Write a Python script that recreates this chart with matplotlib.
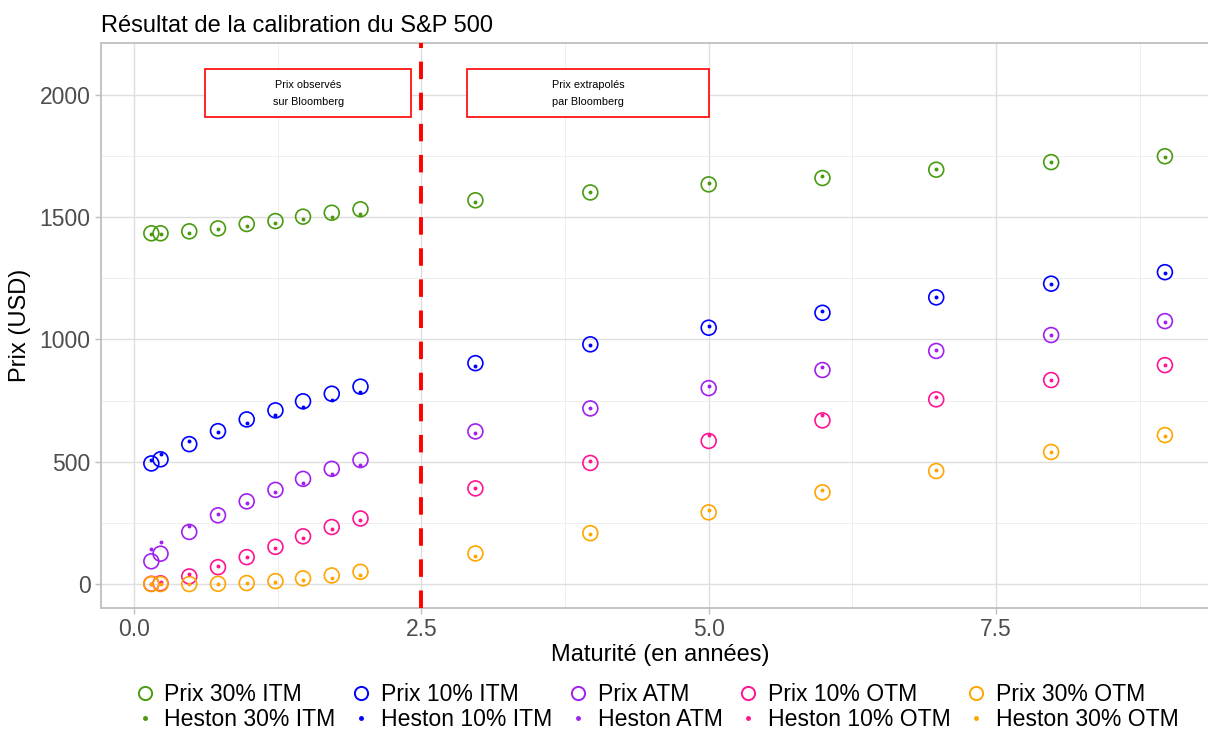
import matplotlib
matplotlib.use("Agg")
import matplotlib.pyplot as plt
from matplotlib.lines import Line2D
from matplotlib.patches import Rectangle

plt.rcParams["font.family"] = ["Liberation Sans", "DejaVu Sans"]

# Maturities (years): quoted on Bloomberg, then extrapolated
maturites = [0.15, 0.23, 0.48, 0.73, 0.98, 1.23, 1.47, 1.72, 1.97,
             2.97, 3.97, 5.0, 5.99, 6.98, 7.98, 8.97]

# Market prices
prix_30_itm = [1434, 1434, 1442, 1454, 1472, 1484, 1502, 1518, 1532,
               1569, 1601, 1634, 1660, 1694, 1725, 1749]
prix_10_itm = [493, 510, 572, 625, 673, 710, 747, 778, 807,
               903, 980, 1048, 1109, 1172, 1228, 1275]
prix_atm = [93, 124, 213, 281, 338, 385, 430, 471, 507,
            624, 718, 801, 875, 953, 1018, 1075]
prix_10_otm = [1, 3, 31, 69, 110, 152, 195, 233, 268,
               391, 495, 585, 669, 755, 834, 895]
prix_30_otm = [0, 0, 0, 1, 4, 12, 23, 35, 50,
               125, 208, 293, 375, 462, 540, 609]

# Heston model prices
heston_30_itm = [1430, 1430, 1436, 1450, 1464, 1475, 1492, 1499, 1513,
                 1561, 1601, 1641, 1669, 1697, 1725, 1746]
heston_10_itm = [507, 533, 583, 621, 658, 690, 723, 754, 784,
                 890, 977, 1055, 1116, 1175, 1228, 1272]
heston_atm = [142, 173, 237, 286, 332, 375, 414, 450, 488,
              616, 720, 811, 887, 955, 1018, 1071]
heston_10_otm = [2, 9, 40, 73, 110, 148, 187, 224, 260,
                 391, 503, 608, 690, 765, 834, 895]
heston_30_otm = [0, 0, 0, 0, 3, 7, 15, 24, 38,
                 116, 206, 301, 384, 465, 538, 605]

labels_prix = ["Prix 30% ITM", "Prix 10% ITM", "Prix ATM", "Prix 10% OTM", "Prix 30% OTM"]
labels_heston = ["Heston 30% ITM", "Heston 10% ITM", "Heston ATM", "Heston 10% OTM", "Heston 30% OTM"]
couleurs = ["#4A9A0F", "#0000FF", "#A020F0", "#FF1493", "#FFA500"]

series_prix = [prix_30_itm, prix_10_itm, prix_atm, prix_10_otm, prix_30_otm]
series_heston = [heston_30_itm, heston_10_itm, heston_atm, heston_10_otm, heston_30_otm]

fig = plt.figure(figsize=(12.08, 7.29), dpi=100)
ax = fig.add_axes([101 / 1208, (729 - 608) / 729, (1208 - 101) / 1208 + 0.01, (608 - 43) / 729])

grid_major = "#DEDEDE"
grid_minor = "#EEEEEE"
ax.set_xlim(-0.288, 9.45)
ax.set_ylim(-98, 2212)
ax.set_xticks([0, 2.5, 5, 7.5])
ax.set_xticklabels(["0.0", "2.5", "5.0", "7.5"])
ax.set_yticks([0, 500, 1000, 1500, 2000])
ax.set_xticks([1.25, 3.75, 6.25, 8.75], minor=True)
ax.set_yticks([250, 750, 1250, 1750], minor=True)
ax.grid(True, which="major", color=grid_major, linewidth=1.0)
ax.grid(True, which="minor", color=grid_minor, linewidth=0.7)
ax.set_axisbelow(True)
for side in ["top", "left", "bottom", "right"]:
    ax.spines[side].set_color("#BFBFBF")
    ax.spines[side].set_linewidth(1.3)
ax.tick_params(axis="both", which="major", colors="#BFBFBF", labelcolor="#4D4D4D",
               labelsize=16.5, length=4, width=1)
ax.tick_params(axis="both", which="minor", length=0)

handles = []
for lp, lh, c, sp, sh in zip(labels_prix, labels_heston, couleurs, series_prix, series_heston):
    ax.scatter(maturites, sp, s=115, facecolors="none", edgecolors=c, linewidths=1.2, zorder=3)
    ax.scatter(maturites, sh, s=8, color=c, linewidths=0, zorder=4)
    handles.append(Line2D([], [], linestyle="none", marker="o", markersize=9.5,
                          markerfacecolor="none", markeredgecolor=c, markeredgewidth=1.4, label=lp))
    handles.append(Line2D([], [], linestyle="none", marker="o", markersize=2.5,
                          markerfacecolor=c, markeredgecolor=c, label=lh))

# Boundary between observed and extrapolated maturities
ax.axvline(2.5, color="#FF0000", linewidth=2.8, linestyle=(0, (4.5, 3.5)), zorder=5)

# Annotation boxes
for x0, x1, texte in [(0.62, 2.41, "Prix observés\nsur Bloomberg"),
                      (2.90, 5.0, "Prix extrapolés\npar Bloomberg")]:
    ax.add_patch(Rectangle((x0, 1909), x1 - x0, 2105 - 1909, facecolor="white",
                           edgecolor="#FF0000", linewidth=1.2, zorder=6))
    ax.text((x0 + x1) / 2, 2007, texte, ha="center", va="center", fontsize=7.8,
            linespacing=1.9, zorder=7)

ax.set_title("Résultat de la calibration du S&P 500", loc="left", fontsize=17, pad=8)
ax.set_xlabel("Maturité (en années)", fontsize=17, labelpad=2)
ax.set_ylabel("Prix (USD)", fontsize=17, labelpad=6)

fig.legend(handles=handles, ncol=5, loc="lower center", bbox_to_anchor=(0.543, -0.022),
           frameon=False, fontsize=16.6, handletextpad=0.35, columnspacing=0.62,
           labelspacing=0.1, handlelength=1.0, borderaxespad=0.2)

fig.savefig("out.png", dpi=100)
